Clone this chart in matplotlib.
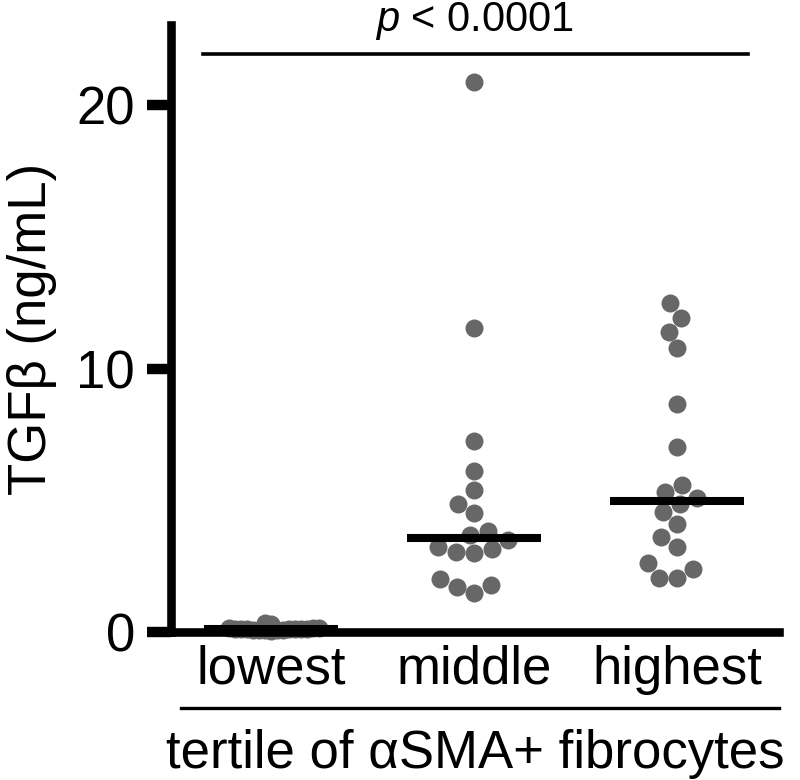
import numpy as np
import matplotlib
matplotlib.use("Agg")
import matplotlib.pyplot as plt
from matplotlib.lines import Line2D

plt.rcParams['font.family'] = ['Liberation Sans', 'DejaVu Sans']
plt.rcParams['mathtext.fontset'] = 'custom'
plt.rcParams['mathtext.rm'] = 'Liberation Sans'
plt.rcParams['mathtext.it'] = 'Liberation Sans:italic'

# data (TGFb, ng/mL) per tertile of aSMA+ fibrocytes
groups = ['lowest', 'middle', 'highest']
lowest = [0.05, 0.06, 0.07, 0.08, 0.08, 0.09, 0.10, 0.10, 0.11, 0.11,
          0.12, 0.12, 0.13, 0.14, 0.15, 0.17, 0.30, 0.34]
middle = [1.49, 1.72, 1.77, 2.01, 2.99, 3.02, 3.14, 3.24, 3.49, 3.67,
          3.84, 4.50, 4.85, 5.39, 6.12, 7.26, 11.55, 20.87]
highest = [2.06, 2.06, 2.40, 2.62, 3.24, 3.59, 4.09, 4.54, 4.86, 5.10,
           5.30, 5.60, 7.03, 8.65, 10.78, 11.40, 11.93, 12.50]
yticks = [0, 10, 20]
ptext = '$p$ < 0.0001'

fig = plt.figure(figsize=(8, 7.8), dpi=100)
ax = fig.add_axes([0.214, 0.1897, 0.76, 0.7782])
ax.set_xlim(-0.493, 2.502)
ax.set_ylim(0, 23.04)


def swarm(xc, vals, d):
    # simple beeswarm in pixel space
    pix = ax.transData.transform(np.column_stack([np.full(len(vals), xc), vals]))
    order = np.argsort(pix[:, 1])
    placed = []
    out = np.zeros(len(vals))
    for k in order:
        y = pix[k, 1]
        cands = [0.0]
        for (px, py) in placed:
            dy = y - py
            if abs(dy) < d:
                dx = np.sqrt(d * d - dy * dy)
                cands += [px - dx, px + dx]
        cands.sort(key=lambda c: (abs(c), c))
        for c in cands:
            if all((c - px) ** 2 + (y - py) ** 2 >= d * d - 1e-6 for (px, py) in placed):
                break
        placed.append((c, y))
        out[k] = c
    xs = ax.transData.inverted().transform(
        np.column_stack([pix[:, 0] + out, pix[:, 1]]))[:, 0]
    return xs


spacing = [6.0, 18.5, 18.5]
for i, vals in enumerate([lowest, middle, highest]):
    xs = swarm(i, vals, spacing[i])
    ax.scatter(xs, vals, s=168, color='#676767', linewidths=0, zorder=1, clip_on=False)
    m = np.median(vals)
    ax.plot([i - 0.33, i + 0.33], [m, m], color='black', lw=5.8,
            solid_capstyle='butt', zorder=3, clip_on=False)

for s in ['top', 'right']:
    ax.spines[s].set_visible(False)
for s in ['left', 'bottom']:
    ax.spines[s].set_linewidth(6.2)
    ax.spines[s].set_zorder(2.5)

ax.set_yticks(yticks)
ax.set_yticklabels([str(t) for t in yticks], fontsize=38)
ax.tick_params(axis='y', length=17, width=7.5, pad=9)
ax.set_xticks(range(3))
ax.set_xticklabels(groups, fontsize=38)
ax.tick_params(axis='x', length=0, pad=9)

ax.set_ylabel('TGF\u03b2 (ng/mL)', fontsize=38, labelpad=14)

# significance bar
ax.plot([-0.335, 2.35], [21.94, 21.94], color='black', lw=2.6, clip_on=False)
ax.text(1.0, 22.8, ptext, fontsize=30, ha='center', va='baseline')

# group line and x title
fig.add_artist(Line2D([181 / 800, 779 / 800], [72 / 780, 72 / 780], color='black', lw=2.4))
fig.text(475 / 800, 12 / 780, 'tertile of \u03b1SMA+ fibrocytes', fontsize=38,
         ha='center', va='baseline')

fig.savefig('out.png', dpi=100)
